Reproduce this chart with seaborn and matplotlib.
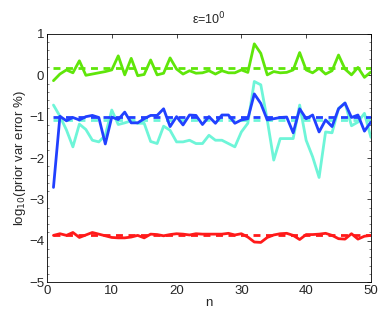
import numpy as np
import pandas as pd
import seaborn as sns
import matplotlib
matplotlib.use("Agg")
import matplotlib.pyplot as plt
from matplotlib.ticker import MultipleLocator

n = list(range(1, 51))

green = [-0.13, 0.03, 0.13, 0.06, 0.35, 0.0, 0.03, 0.06, 0.09, 0.13,
         0.47, 0.01, 0.41, -0.01, 0.02, 0.37, 0.01, 0.05, 0.42, 0.15,
         0.03, 0.11, 0.05, 0.06, 0.11, 0.03, 0.11, 0.06, 0.06, 0.13,
         0.07, 0.76, 0.53, 0.01, 0.09, 0.06, 0.07, 0.13, 0.55, 0.13,
         0.06, 0.17, 0.03, 0.11, 0.49, 0.15, 0.01, 0.19, -0.05, 0.08]
blue = [-2.71, -0.99, -1.10, -1.02, -1.08, -1.00, -0.97, -1.02, -1.66, -1.01,
        -1.07, -0.89, -1.15, -1.15, -1.05, -0.97, -0.97, -0.81, -1.24, -1.00,
        -1.20, -0.96, -0.97, -1.19, -1.00, -1.16, -0.96, -0.96, -1.16, -1.08,
        -1.05, -0.45, -0.68, -1.08, -1.05, -1.02, -1.01, -1.39, -0.81, -1.05,
        -0.96, -1.37, -1.08, -1.24, -0.81, -0.67, -1.02, -0.96, -1.35, -1.13]
cyan = [-0.72, -0.99, -1.32, -1.73, -1.18, -1.31, -1.57, -1.61, -1.45, -0.84,
        -1.19, -1.15, -1.10, -1.16, -1.16, -1.60, -1.65, -1.23, -1.33, -1.61,
        -1.61, -1.57, -1.65, -1.65, -1.45, -1.57, -1.57, -1.65, -1.73, -1.37,
        -1.16, -0.15, -0.23, -1.08, -2.05, -1.53, -1.53, -1.53, -0.72, -1.57,
        -1.97, -2.47, -1.37, -1.39, -0.80, -0.67, -1.22, -1.13, -0.92, -1.50]
red = [-3.87, -3.83, -3.87, -3.80, -3.92, -3.86, -3.80, -3.84, -3.88, -3.92,
       -3.93, -3.93, -3.91, -3.87, -3.93, -3.84, -3.85, -3.88, -3.85, -3.83,
       -3.84, -3.86, -3.83, -3.84, -3.84, -3.84, -3.84, -3.82, -3.86, -3.83,
       -3.91, -4.03, -4.04, -3.92, -3.86, -3.83, -3.82, -3.87, -3.97, -3.85,
       -3.85, -3.84, -3.82, -3.87, -3.95, -3.96, -3.83, -3.96, -3.89, -3.87]

means = {"green": 0.18, "blue": -1.0, "cyan": -1.09, "red": -3.86}
colors = {"green": "#5fe60a", "blue": "#2140ff", "cyan": "#6ef5d8", "red": "#ff1a1a"}

df = pd.DataFrame({"n": n, "green": green, "blue": blue, "cyan": cyan, "red": red})
long = df.melt(id_vars="n", var_name="series", value_name="val")

sns.set_style("white")
plt.rcParams['font.family'] = ['Liberation Sans', 'DejaVu Sans']

fig = plt.figure(figsize=(3.82, 3.17), dpi=100)
ax = fig.add_axes([0.123, 0.110, 0.848, 0.783])

for name in ["cyan", "blue", "green", "red"]:
    sub = long[long.series == name]
    sns.lineplot(data=sub, x="n", y="val", ax=ax, color=colors[name], lw=2.0)
    mdf = pd.DataFrame({"n": [1, 50], "val": [means[name], means[name]]})
    sns.lineplot(data=mdf, x="n", y="val", ax=ax, color=colors[name], lw=2.0,
                 linestyle=(0, (2.5, 2.0)))

ax.set_xlim(0, 50)
ax.set_ylim(-5, 1)
ax.xaxis.set_major_locator(MultipleLocator(10))
ax.yaxis.set_major_locator(MultipleLocator(1))
ax.yaxis.set_minor_locator(MultipleLocator(0.2))
ax.tick_params(direction="in", top=True, right=True, length=3, width=0.6,
               labelsize=9.5, pad=2)
ax.tick_params(which="minor", direction="in", left=True, right=True, length=1.2, width=0.4)
for s in ax.spines.values():
    s.set_linewidth(0.6)
    s.set_color("black")

ax.set_xlabel("n", fontsize=9.5, labelpad=0)
ax.set_ylabel("log$_{10}$(prior var error %)", fontsize=9.5, labelpad=1)
ax.set_title("ε=10$^{0}$", fontsize=9, pad=7)

fig.savefig("out.png", dpi=100)
